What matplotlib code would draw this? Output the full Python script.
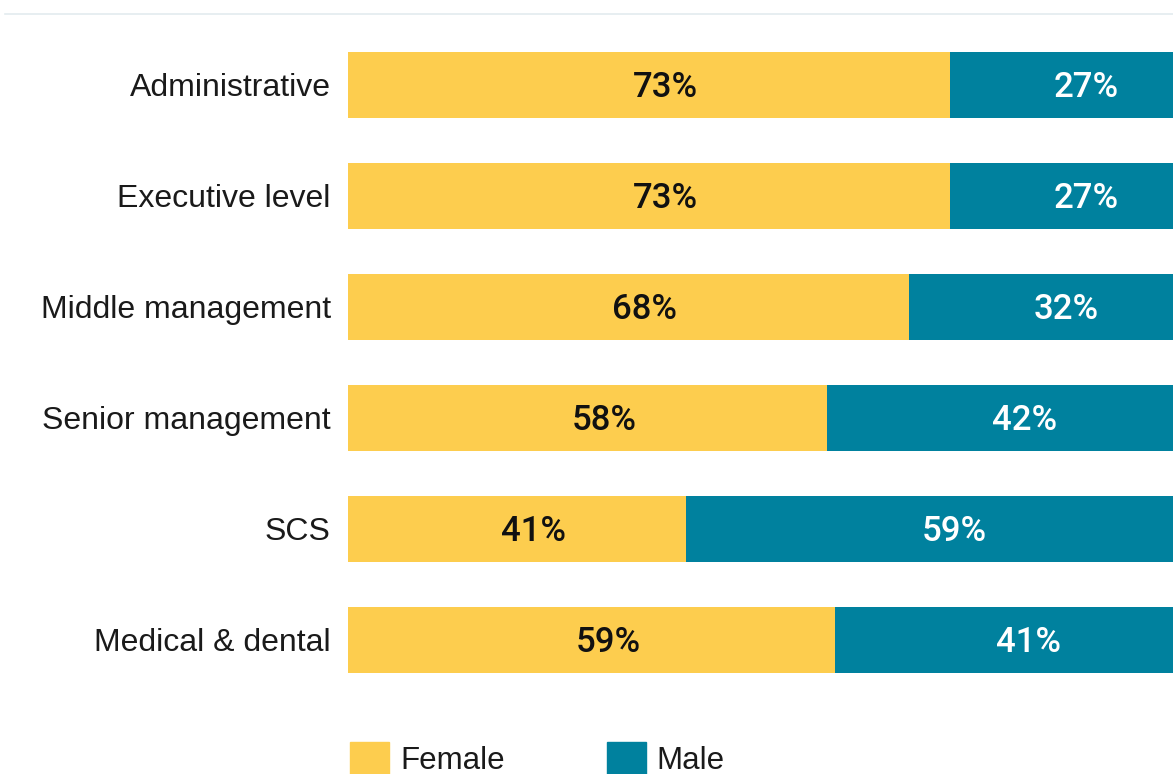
import matplotlib
matplotlib.use("Agg")
import matplotlib.pyplot as plt
from matplotlib.patches import Patch
from matplotlib.lines import Line2D

# grade groups and gender split (%)
grades = ["Administrative", "Executive level", "Middle management",
          "Senior management", "SCS", "Medical & dental"]
female = [73, 73, 68, 58, 41, 59]
male = [27, 27, 32, 42, 59, 41]

female_color = "#fdcd4e"
male_color = "#00819e"

plt.rcParams["font.family"] = ["Liberation Sans", "DejaVu Sans"]

W, H = 1173, 774
fig = plt.figure(figsize=(W / 100, H / 100), dpi=100)

# axes span the bar area; rows are 111 px apart, first centred at 85 px
left = 348
ax = fig.add_axes([left / W, 0, (W - left) / W, 1])
step = 111
ax.set_ylim((H - 85) / step, -85 / step)
ax.set_xlim(0, 100)

y = range(len(grades))
ax.barh(y, female, height=0.6, color=female_color, linewidth=0)
ax.barh(y, male, left=female, height=0.6, color=male_color, linewidth=0)

pct_font = dict(family=["Roboto", "Liberation Sans"], fontsize=25,
                fontweight="medium", ha="center", va="center")
for i, (f, m) in enumerate(zip(female, male)):
    ax.text(f / 2 + 2.0, i + 0.025, f"{f}%", color="#111111", **pct_font)
    ax.text(f + m / 2 + 3.0, i + 0.025, f"{m}%", color="white", **pct_font)

ax.set_yticks(list(y))
ax.set_yticklabels(grades, fontsize=23, color="#1a1a1a")
ax.tick_params(axis="y", length=0, pad=12.5)
ax.set_xticks([])
for s in ax.spines.values():
    s.set_visible(False)

# thin rule across the top
fig.add_artist(Line2D([5 / W, 1], [1 - 14 / H, 1 - 14 / H],
                      color="#e3ebef", linewidth=1.2))

handles = [Patch(color=female_color, label="Female"),
           Patch(color=male_color, label="Male")]
fs = 22.5
fs_px = fs * 100 / 72
fig.legend(handles=handles, ncol=2, frameon=False, loc="center left",
           bbox_to_anchor=(350 / W, 1 - 759 / H), borderaxespad=0,
           borderpad=0, fontsize=fs, handlelength=39 / fs_px,
           handleheight=39 / fs_px, handletextpad=11 / fs_px,
           columnspacing=102 / fs_px, labelcolor="#1a1a1a")

fig.savefig("out.png", dpi=100)
